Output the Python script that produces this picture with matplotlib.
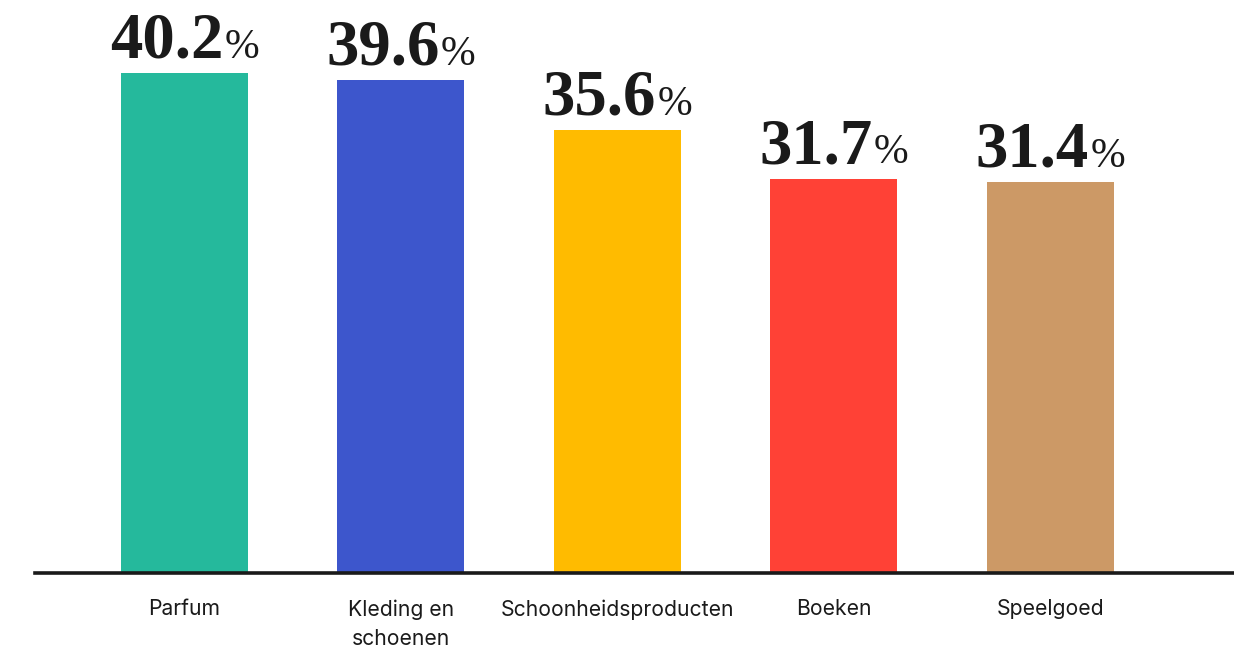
import numpy as np
import matplotlib
matplotlib.use('Agg')
import matplotlib.pyplot as plt
from matplotlib.offsetbox import TextArea, HPacker, AnnotationBbox

categories = ['Parfum', 'Kleding en\nschoenen', 'Schoonheidsproducten', 'Boeken', 'Speelgoed']
values = [40.2, 39.6, 35.6, 31.7, 31.4]
colors = ['#25B99C', '#3D56CC', '#FFBB00', '#FF4136', '#CC9966']

ink = '#1a1a1a'

fig = plt.figure(figsize=(12.34, 6.49), dpi=100)
ax = fig.add_axes([35 / 1234, 76 / 649, 1 - 35 / 1234, 1 - 76 / 649])

x = np.arange(len(categories))
ax.bar(x, values, width=0.587, color=colors, zorder=2)

# value labels: big bold number + smaller percent sign
for xi, v in zip(x, values):
    num = TextArea('%.1f' % v, textprops=dict(family='Liberation Serif', weight='bold',
                                                size=46.5, color=ink))
    pct = TextArea('%', textprops=dict(family='Liberation Serif', size=30, color=ink))
    box = HPacker(children=[num, pct], align='baseline', pad=0, sep=1)
    ab = AnnotationBbox(box, (xi, v), xybox=(0, 1), xycoords='data',
                        boxcoords='offset points', box_alignment=(0.5, 0),
                        frameon=False, annotation_clip=False)
    ax.add_artist(ab)

ax.set_xlim(-0.69, 4.848)
ax.set_ylim(0, 46.06)
ax.set_xticks(x)
ax.set_xticklabels(categories, family='Inter', size=15.2, color=ink, linespacing=1.6)
ax.tick_params(axis='x', length=0, pad=19)
ax.set_yticks([])
for s in ['top', 'right', 'left']:
    ax.spines[s].set_visible(False)
ax.spines['bottom'].set_linewidth(2.6)
ax.spines['bottom'].set_color(ink)
ax.spines['bottom'].set_zorder(3)

fig.savefig('out.png', dpi=100)
